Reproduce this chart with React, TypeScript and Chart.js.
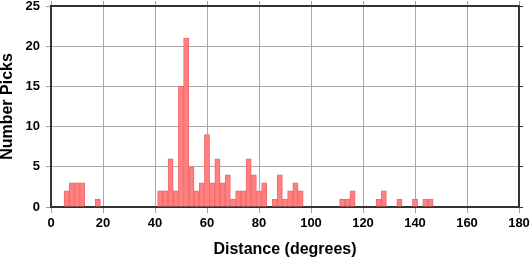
import React, { useEffect, useRef } from "react";
import { Chart, registerables } from "chart.js";

Chart.register(...registerables);

// Bin centres (degrees, 2-degree bins) and pick counts
const binCenters: number[] = [
  6, 8, 10, 12, 18,
  42, 44, 46, 48, 50, 52, 54, 56, 58, 60, 62, 64, 66, 68, 70, 72, 74, 76, 78, 80, 82,
  86, 88, 90, 92, 94, 96,
  112, 114, 116,
  126, 128, 134, 140, 144, 146,
];
const counts: number[] = [
  2, 3, 3, 3, 1,
  2, 2, 6, 2, 15, 21, 5, 2, 3, 9, 3, 6, 3, 4, 1, 2, 2, 6, 4, 2, 3,
  1, 4, 1, 2, 3, 2,
  1, 1, 2,
  1, 2, 1, 1, 1, 1,
];
const xRange = [0, 180];
const yRange = [0, 25];
const xTitle = "Distance (degrees)";
const yTitle = "Number Picks";

const FONT = "'Liberation Sans', Arial, Helvetica, sans-serif";

const noPad = (s: any) => {
  s.paddingTop = 0;
  s.paddingBottom = 0;
  s.paddingLeft = 0;
  s.paddingRight = 0;
};

export default function App() {
  const ref = useRef<HTMLCanvasElement | null>(null);
  useEffect(() => {
    if (!ref.current) return;
    const data = binCenters.map((x, i) => ({ x, y: counts[i] }));
    const tickFont = { family: FONT, size: 13, weight: "bold" as const };
    const titleFont = { family: FONT, size: 16, weight: "bold" as const, lineHeight: 1 };
    const chart = new Chart(ref.current, {
      type: "bar",
      data: {
        datasets: [
          {
            data,
            backgroundColor: "#ff8080",
            borderColor: "#f26868",
            borderWidth: 1,
            barPercentage: 1,
            categoryPercentage: 1,
            grouped: false,
          },
        ],
      },
      options: {
        responsive: false,
        animation: false,
        devicePixelRatio: 1,
        layout: { padding: 0 },
        plugins: { legend: { display: false }, tooltip: { enabled: false } },
        scales: {
          x: {
            type: "linear",
            position: "bottom",
            min: xRange[0],
            max: xRange[1],
            offset: false,
            grid: { offset: false, color: "#a8a8a8", tickColor: "#a0a0a0", tickLength: 6 },
            border: { color: "#333333", width: 2 },
            ticks: { stepSize: 20, color: "#000", font: tickFont, padding: 3, maxRotation: 0 },
            title: { display: true, text: xTitle, color: "#000", font: titleFont, padding: 0 },
            afterFit: (s: any) => { s.height = 51; noPad(s); },
          },
          x2: {
            type: "linear",
            position: "top",
            min: xRange[0],
            max: xRange[1],
            offset: false,
            grid: { offset: false, drawOnChartArea: false, tickColor: "#a0a0a0", tickLength: 5 },
            border: { color: "#333333", width: 2 },
            ticks: { stepSize: 20, callback: () => "", padding: 0 },
            afterFit: (s: any) => { s.height = 6; noPad(s); },
          },
          y: {
            type: "linear",
            position: "left",
            min: yRange[0],
            max: yRange[1],
            grid: { color: "#a8a8a8", tickColor: "#a0a0a0", tickLength: 5 },
            border: { color: "#333333", width: 2 },
            ticks: { stepSize: 5, color: "#000", font: tickFont, padding: 6 },
            title: { display: true, text: yTitle, color: "#000", font: titleFont, padding: 0 },
            afterFit: (s: any) => { s.width = 51; noPad(s); },
          },
          y2: {
            type: "linear",
            position: "right",
            min: yRange[0],
            max: yRange[1],
            grid: { drawOnChartArea: false, tickColor: "#333333", tickLength: 4 },
            border: { color: "#333333", width: 2 },
            ticks: { stepSize: 5, callback: () => "", padding: 0 },
            afterFit: (s: any) => { s.width = 11; noPad(s); },
          },
        },
      },
    });
    return () => chart.destroy();
  }, []);
  return (
    <div style={{ position: "fixed", left: 0, top: 0, width: 530, height: 258, background: "#fff" }}>
      <canvas ref={ref} width={530} height={258} style={{ display: "block" }} />
    </div>
  );
}
